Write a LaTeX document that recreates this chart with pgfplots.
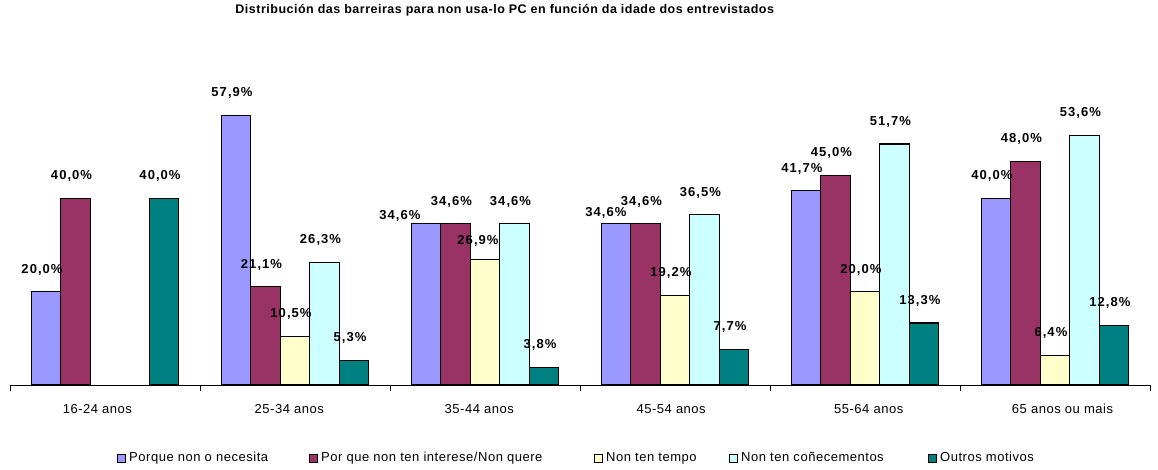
\documentclass[border=0pt]{standalone}
\usepackage{pgfplots}
\pgfplotsset{compat=1.18}
\usepackage{fontspec}
\setmainfont{Liberation Sans}[LetterSpace=4]
\definecolor{c1}{HTML}{9999FF}
\definecolor{c2}{HTML}{993366}
\definecolor{c3}{HTML}{FFFFCC}
\definecolor{c4}{HTML}{CCFFFF}
\definecolor{c5}{HTML}{008080}
\begin{document}
\begin{tikzpicture}
\path[use as bounding box] (-10pt,-84pt) rectangle (1148pt,385pt);
\begin{axis}[
 at={(0pt,0pt)}, anchor=south west,
 scale only axis, width=1140pt, height=303pt,
 ymin=0, ymax=65, xmin=-0.5, xmax=5.5,
 axis x line*=bottom, axis y line=none,
 axis line style={line width=0.8pt, black},
 ybar=0pt, bar width=29.5pt,
 xtick={-0.04,0.97,1.97,2.98,4.02,5.04},
 xticklabels={16-24 anos, 25-34 anos, 35-44 anos, 45-54 anos, 55-64 anos, 65 anos ou mais},
 major tick length=0pt,
 extra x ticks={-0.5,0.5,1.5,2.5,3.5,4.5,5.5}, extra x tick labels={},
 extra x tick style={major tick length=6pt, tick align=outside, tick style={black, line width=0.8pt}},
 xticklabel style={font=\fontsize{13}{15}\selectfont, yshift=-16pt},
 /pgf/number format/assume math mode=true,
 every axis plot/.append style={draw=black, line width=1.1pt},
 nodes near coords={\pgfmathprintnumber[fixed,fixed zerofill,precision=1,use comma]{\pgfplotspointmeta}\%},
 every node near coord/.append style={font=\fontsize{13}{15}\selectfont\bfseries\addfontfeature{LetterSpace=8}, anchor=south, inner sep=0pt, yshift=16pt, xshift=-4pt, black},
 title={Distribución das barreiras para non usa-lo PC en función da idade dos entrevistados},
 title style={at={(0.434,1.218)}, anchor=center, yshift=0pt, font=\fontsize{12.5}{14}\selectfont\bfseries},
 legend columns=5,
 legend image code/.code={\draw[#1,line width=1pt] (0pt,-4pt) rectangle (8pt,4pt);},
 legend style={draw=none, fill=none, at={(0.0939,-0.241)}, anchor=west,
   font=\fontsize{13}{15}\selectfont, column sep=0pt, inner sep=0pt,
   nodes={inner sep=0pt}},
]
\addplot[fill=c1,
  coordinate style/.condition={\coordindex==2}{xshift=-22pt, yshift=-14.5pt},
  coordinate style/.condition={\coordindex==3}{xshift=-6pt, yshift=-11.8pt}]
  coordinates {(0,20.0) (1,57.9) (2,34.6) (3,34.6) (4,41.7) (5,40.0)};
\addlegendentry{\makebox[183pt][l]{\hspace{3pt}Porque non o necesita}}
\addplot[fill=c2] coordinates {(0,40.0) (1,21.1) (2,34.6) (3,34.6) (4,45.0) (5,48.0)};
\addlegendentry{\makebox[276pt][l]{\hspace{3pt}Por que non ten interese/Non quere}}
\addplot[fill=c3,
  coordinate style/.condition={\coordindex==1}{xshift=-3pt, yshift=-3.5pt}]
  coordinates {(1,10.5) (2,26.9) (3,19.2) (4,20.0) (5,6.4)};
\addlegendentry{\makebox[126pt][l]{\hspace{3pt}Non ten tempo}}
\addplot[fill=c4] coordinates {(1,26.3) (2,34.6) (3,36.5) (4,51.7) (5,53.6)};
\addlegendentry{\makebox[190pt][l]{\hspace{3pt}Non ten coñecementos}}
\addplot[fill=c5] coordinates {(0,40.0) (1,5.3) (2,3.8) (3,7.7) (4,13.3) (5,12.8)};
\addlegendentry{\hspace{3pt}Outros motivos}
\end{axis}
\end{tikzpicture}
\end{document}
